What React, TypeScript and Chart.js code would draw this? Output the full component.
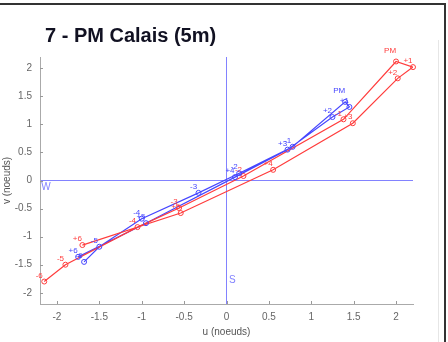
import { useEffect, useRef } from "react";
import { Chart, registerables } from "chart.js";

Chart.register(...registerables);

const TITLE = "7 - PM Calais (5m)";
const X_TITLE = "u (noeuds)";
const Y_TITLE = "v (noeuds)";
const AXIS_MIN = -2.2;
const AXIS_MAX = 2.2;
const TICK_STEP = 0.5;

const HOURS = ["-6", "-5", "-4", "-3", "-2", "-1", "PM", "+1", "+2", "+3", "+4", "+5", "+6"];

const RED_U = [-2.15, -1.9, -1.05, -0.56, 0.2, 1.38, 2.0, 2.2, 2.02, 1.49, 0.55, -0.54, -1.7];
const RED_V = [-1.8, -1.5, -0.83, -0.49, 0.08, 1.09, 2.12, 2.02, 1.82, 1.02, 0.19, -0.58, -1.15];

const BLUE_U = [-1.68, -1.5, -1.0, -0.33, 0.15, 0.78, 1.4, 1.45, 1.25, 0.72, 0.1, -0.95, -1.75];
const BLUE_V = [-1.45, -1.18, -0.68, -0.22, 0.13, 0.6, 1.4, 1.31, 1.13, 0.55, 0.06, -0.76, -1.36];

const CARDINALS = [
  { text: "W", u: -2.13, v: -0.12 },
  { text: "S", u: 0.07, v: -1.77 },
];

const RED = "rgb(255,60,60)";
const BLUE = "rgb(70,70,255)";
const AXIS_BLUE = "rgb(130,130,255)";
const FONT = "'Liberation Sans', Arial, sans-serif";

const fmt = (v: any) => String(Number(Number(v).toFixed(2)));

export default function App() {
  const ref = useRef<HTMLCanvasElement | null>(null);

  useEffect(() => {
    if (!ref.current) return;
    const extras = {
      id: "extras",
      afterDraw(chart: any) {
        const ctx = chart.ctx;
        const xs = chart.scales.x;
        const ys = chart.scales.y;
        const area = chart.chartArea;
        ctx.save();
        ctx.textAlign = "center";
        ctx.textBaseline = "middle";
        ctx.lineWidth = 1;
        chart.data.datasets.forEach((ds: any, di: number) => {
          const meta = chart.getDatasetMeta(di);
          ctx.strokeStyle = ds.borderColor;
          ctx.fillStyle = ds.borderColor;
          ctx.font = "8px " + FONT;
          meta.data.forEach((pt: any, i: number) => {
            ctx.beginPath();
            ctx.arc(pt.x, pt.y, 2.5, 0, Math.PI * 2);
            ctx.closePath();
            ctx.stroke();
            const lab = HOURS[i];
            const dx = lab === "PM" ? -6 : -5;
            const dy = lab === "PM" ? -11 : -6;
            ctx.fillText(lab, pt.x + dx, pt.y + dy);
          });
        });
        ctx.font = "10px " + FONT;
        ctx.fillStyle = AXIS_BLUE;
        CARDINALS.forEach((c) => {
          ctx.fillText(c.text, xs.getPixelForValue(c.u), ys.getPixelForValue(c.v));
        });
        ctx.fillStyle = "#999";
        xs.ticks.forEach((t: any) => {
          const px = Math.round(xs.getPixelForValue(t.value));
          ctx.fillRect(px, area.bottom - 3, 1, 3);
        });
        ys.ticks.forEach((t: any) => {
          const py = Math.round(ys.getPixelForValue(t.value));
          ctx.fillRect(area.left, py, 3, 1);
        });
        ctx.fillStyle = "#111122";
        ctx.font = "bold 20px " + FONT;
        ctx.textAlign = "left";
        ctx.textBaseline = "alphabetic";
        ctx.fillText(TITLE, 45, 42);
        ctx.fillStyle = "#555";
        ctx.font = "10px " + FONT;
        ctx.textAlign = "center";
        ctx.textBaseline = "middle";
        ctx.fillText(X_TITLE, (area.left + area.right) / 2, 332);
        ctx.translate(7, (area.top + area.bottom) / 2);
        ctx.rotate(-Math.PI / 2);
        ctx.fillText(Y_TITLE, 0, 0);
        ctx.restore();
      },
    };

    const mk = (u: number[], v: number[]) => u.map((x, i) => ({ x, y: v[i] }));
    const gridColor = (c: any) => (c.tick && c.tick.value === 0 ? AXIS_BLUE : "rgba(0,0,0,0)");

    const lineSet = (u: number[], v: number[], color: string) => ({
      data: mk(u, v),
      showLine: true,
      borderColor: color,
      borderWidth: 1.2,
      pointRadius: 0,
    });

    const chart = new Chart(ref.current, {
      type: "scatter",
      data: {
        datasets: [lineSet(RED_U, RED_V, RED), lineSet(BLUE_U, BLUE_V, BLUE)],
      },
      options: {
        responsive: false,
        animation: false,
        events: [],
        layout: { padding: { top: 57, right: 35, left: 0, bottom: 0 } },
        plugins: { legend: { display: false }, tooltip: { enabled: false } },
        scales: {
          x: {
            min: AXIS_MIN,
            max: AXIS_MAX,
            afterFit: (s: any) => {
              s.height = 38;
            },
            ticks: {
              stepSize: TICK_STEP,
              includeBounds: false,
              color: "#666",
              font: { size: 10, family: FONT },
              padding: 7,
              maxRotation: 0,
              callback: (v: any) => fmt(v),
            },
            grid: { color: gridColor, drawTicks: false },
            border: { color: "#aaa" },
          },
          y: {
            min: AXIS_MIN,
            max: AXIS_MAX,
            afterFit: (s: any) => {
              s.width = 40;
            },
            ticks: {
              stepSize: TICK_STEP,
              includeBounds: false,
              color: "#666",
              font: { size: 10, family: FONT },
              padding: 8,
              callback: (v: any) => fmt(v),
            },
            grid: { color: gridColor, drawTicks: false },
            border: { color: "#aaa" },
          },
        },
      } as any,
      plugins: [extras],
    });
    return () => chart.destroy();
  }, []);

  return (
    <div style={{ position: "fixed", left: 0, top: 0, width: 448, height: 342, background: "#fff" }}>
      <canvas ref={ref} width={448} height={342} style={{ width: 448, height: 342, display: "block" }} />
      <div style={{ position: "absolute", left: 0, top: 3, width: 446, height: 2, background: "#333" }} />
      <div style={{ position: "absolute", left: 444, top: 3, width: 2, height: 339, background: "#333" }} />
      <div style={{ position: "absolute", left: 438, top: 40, width: 1, height: 302, background: "#e6e6e6" }} />
    </div>
  );
}
